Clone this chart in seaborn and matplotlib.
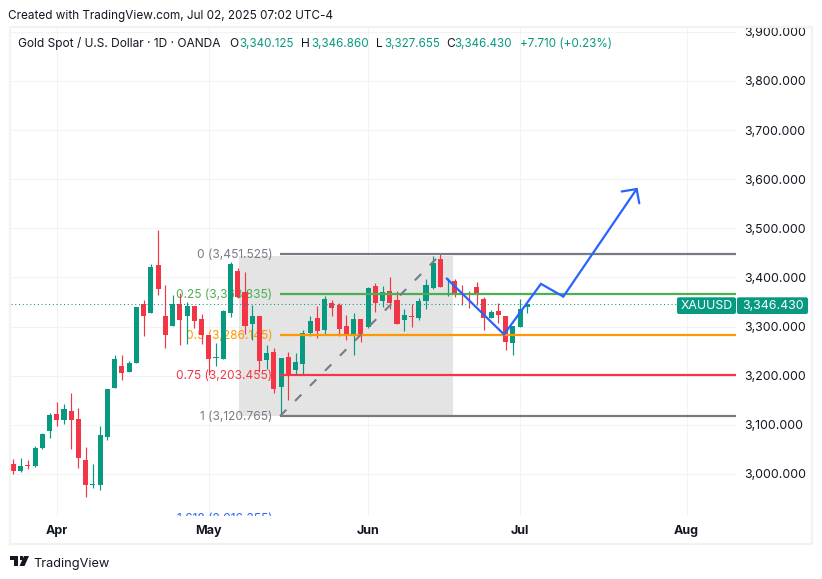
import numpy as np
import matplotlib
matplotlib.use('Agg')
import matplotlib.pyplot as plt
from matplotlib.patches import Rectangle, FancyBboxPatch, Polygon
import seaborn as sns

opens = [3020, 3007, 3018, 3016, 3052, 3088, 3122, 3110, 3128, 3112, 3028, 2978, 2978, 3075, 3175, 3220, 3208, 3226,
         3346, 3328, 3425, 3322, 3301, 3346, 3322, 3342, 3316, 3283, 3236, 3234, 3328, 3413, 3370, 3305, 3322, 3232,
         3248, 3177, 3238, 3212, 3224, 3287, 3318, 3293, 3348, 3344, 3301, 3285, 3316, 3299, 3383, 3352, 3372, 3354,
         3313, 3322, 3318, 3352, 3379, 3438, 3384, 3393, 3366, 3366, 3381, 3356, 3318, 3332, 3322, 3267, 3299, 3340]
highs = [3030, 3032, 3028, 3057, 3083, 3124, 3146, 3142, 3165, 3134, 3055, 3020, 3098, 3173, 3242, 3242, 3230, 3340,
         3354, 3427, 3497, 3385, 3364, 3368, 3350, 3342, 3326, 3283, 3267, 3334, 3431, 3419, 3411, 3344, 3322, 3263,
         3256, 3236, 3248, 3246, 3293, 3322, 3342, 3362, 3354, 3348, 3324, 3328, 3316, 3381, 3389, 3383, 3401, 3372,
         3336, 3346, 3358, 3397, 3444, 3448, 3399, 3397, 3385, 3372, 3391, 3360, 3334, 3348, 3322, 3301, 3356, 3347]
lows = [3000, 3005, 3011, 3015, 3051, 3073, 3098, 3102, 3051, 3012, 2953, 2971, 2967, 3069, 3175, 3191, 3208, 3226,
        3281, 3328, 3364, 3256, 3301, 3263, 3265, 3297, 3265, 3201, 3220, 3234, 3320, 3358, 3285, 3273, 3208, 3214,
        3165, 3120, 3151, 3203, 3201, 3281, 3277, 3285, 3322, 3281, 3273, 3242, 3269, 3297, 3330, 3340, 3336, 3305,
        3291, 3299, 3313, 3336, 3377, 3381, 3362, 3360, 3344, 3338, 3344, 3293, 3318, 3307, 3252, 3242, 3299, 3328]
closes = [3007, 3016, 3017, 3053, 3081, 3120, 3110, 3132, 3110, 3033, 2978, 2980, 3079, 3173, 3234, 3206, 3226, 3340,
          3322, 3421, 3376, 3283, 3346, 3314, 3342, 3311, 3283, 3234, 3238, 3332, 3427, 3360, 3301, 3322, 3230, 3246,
          3173, 3236, 3201, 3228, 3287, 3311, 3291, 3356, 3338, 3295, 3283, 3316, 3283, 3379, 3348, 3370, 3348, 3305,
          3324, 3320, 3352, 3385, 3430, 3381, 3385, 3364, 3364, 3365, 3364, 3318, 3330, 3324, 3269, 3301, 3336, 3346]

price_ticks = [3000, 3100, 3200, 3300, 3400, 3500, 3600, 3700, 3800, 3900]
month_bars = [6, 27, 49, 70, 93]
month_labels = ['Apr', 'May', 'Jun', 'Jul', 'Aug']
last_price = 3346.43

# fib drawing
fib_prices = [3447.8, 3367, 3283, 3201.5, 3118, 2911]
fib_labels = ['0 (3,451.525)', '0.25 (3,368.835)', '0.5 (3,286.145)', '0.75 (3,203.455)', '1 (3,120.765)',
              '1.618 (2,916.355)']
fib_colors = ['#787B86', '#4CAF50', '#FF9800', '#F23645', '#787B86', '#2962FF']
fib_start = 36.84

# projected path
path_bars = [59.86, 67.78, 72.88, 75.97, 86.1]
path_prices = [3398, 3284, 3387, 3361, 3580]
head_bars = [84.03, 86.1, 86.46]
head_prices = [3575, 3580, 3551]

GREEN = '#089981'
RED = '#F23645'
BLUE = '#2962FF'
W, H = 822, 579

sns.set_theme(style='white')
plt.rcParams['font.family'] = ['Inter', 'DejaVu Sans']


def fx(x):
    return x / W


def fy(y):
    return 1 - y / H


fig = plt.figure(figsize=(W / 100, H / 100), dpi=100, facecolor='white')
ax = fig.add_axes([fx(11), fy(516), fx(725), (516 - 27) / H])
ax.set_facecolor('white')

df_o, df_c, df_h, df_l = map(np.array, (opens, closes, highs, lows))
bars = np.arange(len(opens))
is_up = df_c >= df_o

# shaded box and fib labels sit under the candles
ax.add_patch(Rectangle((31.2, fib_prices[4]), 60.7 - 31.2, 3443.7 - fib_prices[4], color='#E4E4E4', lw=0, zorder=1))
for price, label, color in zip(fib_prices, fib_labels, fib_colors):
    ax.text(fib_start - 1.05, price - 3, label, color=color, fontsize=8.6, ha='right', va='center', zorder=2,
            clip_on=True)

ax.vlines(bars[is_up], df_l[is_up], df_h[is_up], color=GREEN, lw=0.85, zorder=3)
ax.vlines(bars[~is_up], df_l[~is_up], df_h[~is_up], color=RED, lw=0.85, zorder=3)

for mask, color in [(is_up, GREEN), (~is_up, RED)]:
    top = np.maximum(df_o[mask], df_c[mask])
    bottom = np.minimum(df_o[mask], df_c[mask])
    sns.barplot(x=bars[mask], y=top - bottom, bottom=bottom, native_scale=True, color=color, saturation=1,
                width=0.7, errorbar=None, linewidth=0, zorder=4, ax=ax)

ax.axhline(last_price, color=GREEN, lw=0.75, ls=(0, (1, 2.6)), zorder=5)

for price, color in zip(fib_prices[:5], fib_colors[:5]):
    ax.hlines(price, fib_start, 99.82, color=color, lw=1.6, zorder=6)
ax.plot([fib_start, 58.94], [fib_prices[4], 3445.8], color='#787B86', lw=1.5, ls=(0, (4.3, 5.9)), zorder=6)

ax.plot(path_bars, path_prices, color=BLUE, lw=1.6, zorder=7, solid_joinstyle='miter')
ax.plot(head_bars, head_prices, color=BLUE, lw=1.6, zorder=7, solid_joinstyle='miter')

ax.set_xlim(-0.32, 99.82)
ax.set_ylim(2914.5, 3909.8)
ax.yaxis.tick_right()
ax.set_yticks(price_ticks)
ax.set_yticklabels([f'{p:,.3f}' for p in price_ticks], fontsize=8.9, color='#131722')
ax.set_xticks(month_bars)
ax.set_xticklabels(month_labels, fontsize=9, fontweight='bold', color='#131722')
ax.set_xlabel('')
ax.set_ylabel('')
ax.tick_params(axis='y', length=0, pad=6.2)
ax.tick_params(axis='x', length=0, pad=6.6)
ax.grid(True, color='#F2F3F5', lw=0.75)
ax.set_axisbelow(True)
for spine in ax.spines.values():
    spine.set_visible(False)

# outer frame
fig.add_artist(Rectangle((fx(10), fy(543.5)), 802 / W, 517 / H, fill=False, ec='#F2F2F2', lw=1.6,
                         transform=fig.transFigure))

fig.text(fx(8), fy(16), 'Created with TradingView.com, Jul 02, 2025 07:02 UTC-4', fontsize=8.45, color='#131722',
         va='center')

legend_y = fy(44)
fig.text(fx(18), legend_y, 'Gold Spot / U.S. Dollar · 1D · OANDA', fontsize=8.6, color='#131722', va='center')
for x, letter in [(229, 'O'), (301, 'H'), (375.5, 'L'), (446, 'C')]:
    fig.text(fx(x), legend_y, letter, fontsize=8.6, color='#131722', va='center')
for x, val in [(239, '3,340.125'), (311, '3,346.860'), (384, '3,327.655'), (454, '3,346.430'),
               (520, '+7.710 (+0.23%)')]:
    fig.text(fx(x), legend_y, val, fontsize=8.4, color=GREEN, va='center')

# last price tags on the scale, boxes given in inches
for x0, x1 in [(677, 736), (737, 808)]:
    fig.add_artist(FancyBboxPatch(((x0 + 2) / 100, (H - 314 + 2) / 100), (x1 - x0 - 4) / 100, 0.127,
                                  boxstyle='round,pad=0.02,rounding_size=0.02', fc=GREEN, ec='none',
                                  transform=fig.dpi_scale_trans))
fig.text(fx(706.5), fy(306), 'XAUUSD', fontsize=8.9, color='white', ha='center', va='center')
fig.text(fx(773), fy(306), f'{last_price:,.3f}', fontsize=8.9, color='white', ha='center', va='center')

# TradingView logo
logo_color = '#131722'
fig.add_artist(Rectangle((fx(10), fy(560)), 8 / W, 4 / H, fc=logo_color, ec='none', transform=fig.transFigure))
fig.add_artist(Rectangle((fx(14), fy(566)), 4 / W, 7 / H, fc=logo_color, ec='none', transform=fig.transFigure))
fig.add_artist(Polygon([[fx(24), fy(556)], [fx(29), fy(556)], [fx(24.5), fy(566)], [fx(19.5), fy(566)]],
                       fc=logo_color, ec='none', transform=fig.transFigure))
fig.add_artist(Polygon([[fx(19.5), fy(556.3)], [fx(22.5), fy(556.3)], [fx(22.5), fy(559.6)], [fx(19.5), fy(559.6)]],
                       fc=logo_color, ec='none', transform=fig.transFigure))
fig.text(fx(33.5), fy(564), 'TradingView', fontsize=9.2, color='#131722', va='center')

fig.savefig('out.png', dpi=100, facecolor='white')
